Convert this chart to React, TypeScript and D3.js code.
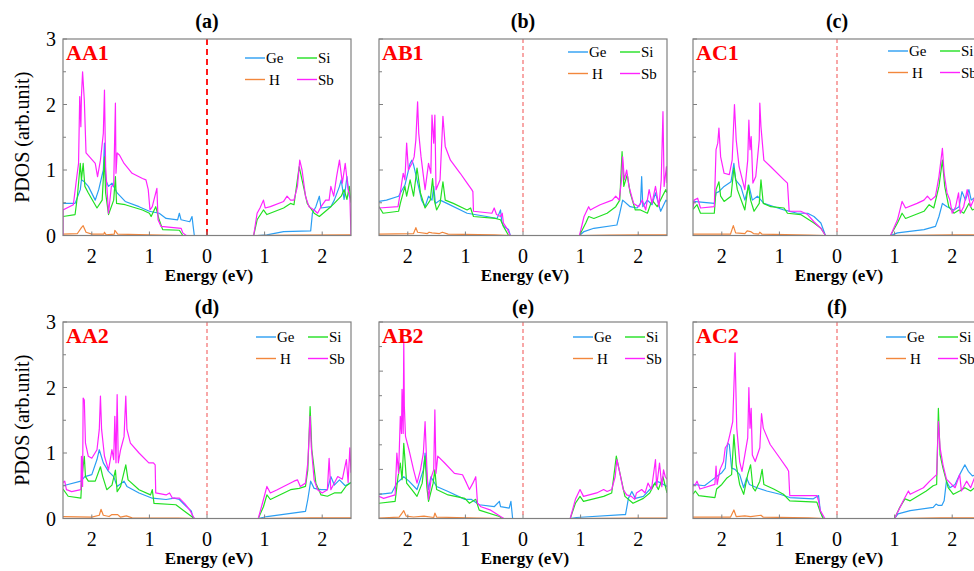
import React from 'react';
import * as d3 from 'd3';

type Pt = [number, number];

// categories and labels
const panelTags = ['(a)', '(b)', '(c)', '(d)', '(e)', '(f)'];
const structures = ['AA1', 'AB1', 'AC1', 'AA2', 'AB2', 'AC2'];
const elements = ['Ge', 'Si', 'H', 'Sb'];
const xTicks = [-2, -1, 0, 1, 2];
const yMaxes = [3, 3, 3, 3, 4, 3];

// PDOS: [energy (eV), PDOS]
const aa1Ge: Pt[] = [[-2.5,0.49],[-2.29,0.49],[-2.2,0.7],[-2.18,0.85],[-2.13,0.82],[-2.06,0.75],[-1.94,0.54],[-1.88,0.7],[-1.8,1.0],[-1.78,1.41],[-1.76,0.85],[-1.71,0.75],[-1.65,0.8],[-1.56,0.65],[-1.42,0.52],[-1.18,0.44],[-1.0,0.37],[-0.83,0.34],[-0.71,0.26],[-0.51,0.24],[-0.48,0.34],[-0.45,0.24],[-0.3,0.21],[-0.26,0.29],[-0.24,0.14],[-0.22,0],
  [0.87,0],[1.04,0.01],[1.33,0.06],[1.8,0.07],[1.83,0.34],[1.89,0.44],[1.95,0.6],[1.98,0.42],[2.15,0.44],[2.21,0.54],[2.3,0.75],[2.33,0.85],[2.38,0.55],[2.43,0.9],[2.47,0.6],[2.5,0.55]];
const aa1Si: Pt[] = [[-2.5,0.29],[-2.29,0.32],[-2.25,0.6],[-2.2,1.1],[-2.18,0.85],[-2.15,1.1],[-2.12,0.75],[-2.06,0.65],[-1.91,0.42],[-1.82,0.54],[-1.78,1.2],[-1.76,0.65],[-1.71,0.32],[-1.62,0.54],[-1.59,0.9],[-1.57,0.49],[-1.42,0.47],[-1.12,0.39],[-1.0,0.34],[-0.97,0.29],[-0.89,0.44],[-0.83,0.24],[-0.77,0.09],[-0.48,0.08],[-0.42,0],
  [0.81,0],[0.87,0.24],[0.98,0.39],[1.04,0.32],[1.33,0.42],[1.45,0.49],[1.51,0.47],[1.6,1.05],[1.65,0.85],[1.74,0.49],[1.86,0.34],[1.95,0.29],[2.15,0.44],[2.21,0.49],[2.33,0.6],[2.38,0.7],[2.43,0.55],[2.47,0.75],[2.5,0.5]];
const aa1H: Pt[] = [[-2.5,0.02],[-2.25,0.03],[-2.18,0.12],[-2.15,0.15],[-2.1,0.05],[-2.0,0.02],[-1.79,0.02],[-1.78,0.05],[-1.75,0.01],[-1.61,0.02],[-1.6,0.08],[-1.55,0.02],[-1.0,0.01],[-0.4,0],[0.8,0],[1.5,0.005],[2.5,0.01]];
const aa1Sb: Pt[] = [[-2.5,0],[-2.5,0.39],[-2.32,0.47],[-2.26,0.9],[-2.23,1.1],[-2.21,2.12],[-2.19,1.66],[-2.18,2.12],[-2.16,2.5],[-2.13,2.07],[-2.1,1.26],[-1.94,1.1],[-1.9,0.9],[-1.85,1.15],[-1.8,1.56],[-1.78,2.22],[-1.76,1.05],[-1.71,0.34],[-1.66,0.75],[-1.62,0.77],[-1.59,2.02],[-1.58,0.95],[-1.56,1.26],[-1.52,1.23],[-1.44,1.1],[-1.3,0.95],[-1.12,0.87],[-1.06,0.85],[-1.02,0.7],[-0.99,0.39],[-0.95,0.44],[-0.89,0.65],[-0.87,0.72],[-0.85,0.24],[-0.8,0.14],[-0.45,0.11],[-0.42,0.04],[-0.36,0],
  [0.81,0],[0.87,0.34],[0.92,0.42],[0.98,0.54],[1.01,0.42],[1.1,0.44],[1.33,0.52],[1.39,0.6],[1.45,0.54],[1.51,0.54],[1.57,0.75],[1.61,1.15],[1.65,1.0],[1.71,0.6],[1.77,0.44],[1.86,0.39],[1.92,0.34],[1.98,0.44],[2.06,0.54],[2.12,0.54],[2.15,0.75],[2.2,0.6],[2.25,0.9],[2.3,1.15],[2.35,0.8],[2.4,1.1],[2.45,0.7],[2.48,0.6],[2.5,0]];

const ab1Ge: Pt[] = [[-2.5,0.52],[-2.37,0.54],[-2.16,0.6],[-2.05,0.77],[-1.96,1.1],[-1.93,1.15],[-1.9,1.08],[-1.84,0.85],[-1.76,0.54],[-1.7,0.44],[-1.64,0.6],[-1.58,0.54],[-1.55,0.75],[-1.52,0.49],[-1.44,0.54],[-1.32,0.49],[-0.97,0.34],[-0.63,0.29],[-0.45,0.26],[-0.39,0.39],[-0.37,0.22],[-0.34,0.14],[-0.25,0.09],[-0.22,0],
  [0.98,0],[1.06,0.06],[1.23,0.11],[1.63,0.16],[1.68,0.34],[1.73,0.54],[1.86,0.44],[1.98,0.42],[2.04,0.49],[2.06,0.9],[2.08,0.44],[2.16,0.54],[2.24,0.47],[2.3,0.65],[2.39,0.37],[2.48,0.54],[2.5,0.52]];
const ab1Si: Pt[] = [[-2.5,0.44],[-2.43,0.34],[-2.16,0.37],[-2.13,0.49],[-2.05,0.75],[-2.02,0.6],[-1.96,0.85],[-1.9,0.6],[-1.84,1.03],[-1.78,0.65],[-1.7,0.42],[-1.61,0.54],[-1.57,0.87],[-1.54,0.54],[-1.5,0.39],[-1.44,0.49],[-1.39,0.82],[-1.35,0.54],[-1.21,0.49],[-0.97,0.39],[-0.91,0.42],[-0.86,0.29],[-0.48,0.26],[-0.39,0.24],[-0.34,0.14],[-0.25,0],
  [0.98,0],[1.09,0.19],[1.14,0.29],[1.23,0.26],[1.46,0.34],[1.61,0.44],[1.68,0.54],[1.72,1.28],[1.75,0.75],[1.81,0.93],[1.86,0.65],[1.95,0.39],[2.04,0.39],[2.16,0.34],[2.24,0.54],[2.33,0.44],[2.42,0.6],[2.48,0.7],[2.5,0.65]];
const ab1H: Pt[] = [[-2.5,0.02],[-1.9,0.03],[-1.86,0.12],[-1.83,0.05],[-1.66,0.03],[-1.63,0.05],[-1.58,0.04],[-1.45,0.03],[-1.4,0.05],[-1.3,0.02],[-0.5,0.01],[-0.22,0],[0.98,0],[1.5,0.005],[2.0,0.01],[2.5,0.01]];
const ab1Sb: Pt[] = [[-2.5,0.42],[-2.17,0.44],[-2.14,0.6],[-2.08,0.95],[-2.05,0.85],[-2.02,1.41],[-1.99,1.0],[-1.93,1.1],[-1.89,1.2],[-1.86,1.46],[-1.83,2.04],[-1.81,1.56],[-1.77,1.2],[-1.7,0.7],[-1.64,1.1],[-1.6,0.95],[-1.58,1.84],[-1.55,1.41],[-1.53,1.84],[-1.51,0.7],[-1.44,0.85],[-1.39,1.82],[-1.35,1.36],[-1.26,1.15],[-1.09,0.95],[-0.97,0.8],[-0.89,0.7],[-0.87,0.67],[-0.86,0.37],[-0.54,0.34],[-0.5,0.42],[-0.46,0.32],[-0.39,0.29],[-0.36,0.34],[-0.34,0.19],[-0.28,0.11],[-0.22,0],
  [0.98,0],[1.06,0.29],[1.14,0.44],[1.17,0.39],[1.23,0.42],[1.34,0.47],[1.55,0.54],[1.61,0.6],[1.67,0.54],[1.71,0.85],[1.73,1.2],[1.76,0.85],[1.8,1.0],[1.84,0.75],[1.92,0.49],[2.01,0.44],[2.07,0.54],[2.13,0.39],[2.19,0.7],[2.24,0.49],[2.3,0.75],[2.36,0.44],[2.4,0.85],[2.43,1.89],[2.45,0.75],[2.49,1.05],[2.5,0.8]];

const ac1Ge: Pt[] = [[-2.5,0.52],[-2.13,0.49],[-2.1,0.65],[-2.05,0.67],[-1.96,0.75],[-1.84,0.82],[-1.79,1.1],[-1.76,0.85],[-1.67,0.75],[-1.6,0.54],[-1.53,0.77],[-1.47,0.54],[-1.38,0.6],[-1.27,0.49],[-0.92,0.39],[-0.69,0.34],[-0.51,0.34],[-0.4,0.29],[-0.28,0.19],[-0.2,0],
  [0.93,0],[1.05,0.04],[1.51,0.09],[1.71,0.14],[1.77,0.29],[1.83,0.49],[1.91,0.44],[2.03,0.39],[2.12,0.44],[2.17,0.67],[2.23,0.54],[2.29,0.7],[2.33,0.54],[2.42,0.6],[2.5,0.5]];
const ac1Si: Pt[] = [[-2.5,0.4],[-2.43,0.47],[-2.37,0.34],[-2.13,0.34],[-2.1,0.7],[-2.05,0.82],[-2.02,0.6],[-1.96,0.52],[-1.84,0.6],[-1.79,1.03],[-1.73,0.7],[-1.6,0.39],[-1.54,0.77],[-1.5,0.54],[-1.44,0.37],[-1.35,0.49],[-1.32,0.85],[-1.28,0.49],[-1.15,0.44],[-0.92,0.42],[-0.86,0.34],[-0.63,0.32],[-0.4,0.19],[-0.28,0.11],[-0.2,0],
  [0.93,0],[1.05,0.19],[1.13,0.34],[1.19,0.26],[1.51,0.37],[1.6,0.47],[1.68,0.42],[1.77,0.75],[1.83,1.15],[1.87,0.75],[1.94,0.44],[2.03,0.34],[2.12,0.39],[2.2,0.34],[2.29,0.49],[2.35,0.39],[2.5,0.45]];
const ac1H: Pt[] = [[-2.5,0.02],[-1.85,0.02],[-1.8,0.15],[-1.76,0.04],[-1.6,0.03],[-1.56,0.07],[-1.5,0.06],[-1.45,0.03],[-1.36,0.02],[-1.34,0.05],[-1.3,0.02],[-0.5,0.005],[-0.2,0],[0.93,0],[2.0,0.01],[2.5,0.01]];
const ac1Sb: Pt[] = [[-2.5,0.42],[-2.48,0.54],[-2.42,0.57],[-2.37,0.42],[-2.13,0.44],[-2.1,1.31],[-2.07,1.41],[-2.05,1.64],[-2.02,1.2],[-1.96,0.95],[-1.87,0.93],[-1.82,1.15],[-1.78,2.0],[-1.75,1.46],[-1.7,1.05],[-1.6,0.7],[-1.55,1.15],[-1.53,1.76],[-1.51,1.31],[-1.49,1.51],[-1.46,0.8],[-1.41,0.9],[-1.35,1.46],[-1.34,2.02],[-1.32,1.66],[-1.27,1.15],[-1.15,1.05],[-0.92,0.85],[-0.86,0.8],[-0.83,0.37],[-0.63,0.37],[-0.51,0.32],[-0.4,0.21],[-0.28,0.11],[-0.2,0],
  [0.93,0],[1.05,0.24],[1.13,0.52],[1.19,0.42],[1.39,0.49],[1.51,0.54],[1.57,0.6],[1.63,0.54],[1.71,0.6],[1.77,0.9],[1.83,1.33],[1.86,0.95],[1.91,0.65],[1.96,0.54],[2.0,0.34],[2.06,0.44],[2.11,0.65],[2.14,0.34],[2.2,0.44],[2.26,0.7],[2.32,0.44],[2.4,0.6],[2.5,0.5]];

const aa2Ge: Pt[] = [[-2.5,0.5],[-2.19,0.57],[-2.12,0.64],[-2.0,0.67],[-1.91,0.9],[-1.87,1.05],[-1.8,0.85],[-1.71,0.72],[-1.62,0.64],[-1.56,0.49],[-1.44,0.57],[-1.39,0.49],[-1.18,0.39],[-0.95,0.31],[-0.71,0.29],[-0.57,0.31],[-0.48,0.29],[-0.39,0.21],[-0.27,0.11],[-0.25,0.03],[-0.22,0],
  [0.89,0],[1.04,0.03],[1.71,0.11],[1.75,0.29],[1.8,0.57],[1.86,0.46],[1.98,0.44],[2.09,0.44],[2.15,0.64],[2.21,0.51],[2.3,0.59],[2.4,0.5],[2.5,0.55]];
const aa2Si: Pt[] = [[-2.5,0.45],[-2.41,0.34],[-2.19,0.31],[-2.17,0.64],[-2.13,0.95],[-2.11,0.64],[-2.06,0.57],[-1.94,0.57],[-1.85,0.79],[-1.81,0.64],[-1.74,0.44],[-1.65,0.51],[-1.59,0.74],[-1.56,0.41],[-1.5,0.49],[-1.41,0.82],[-1.37,0.59],[-1.18,0.44],[-0.98,0.36],[-0.95,0.44],[-0.92,0.23],[-0.54,0.21],[-0.42,0.13],[-0.22,0],
  [0.89,0],[0.98,0.18],[1.04,0.36],[1.1,0.29],[1.45,0.44],[1.6,0.46],[1.71,0.49],[1.75,0.74],[1.79,1.71],[1.82,1.05],[1.89,0.54],[1.98,0.36],[2.09,0.34],[2.21,0.39],[2.33,0.39],[2.42,0.5],[2.5,0.55]];
const aa2H: Pt[] = [[-2.5,0.03],[-2.0,0.02],[-1.87,0.05],[-1.84,0.14],[-1.8,0.05],[-1.7,0.03],[-1.65,0.06],[-1.55,0.06],[-1.5,0.02],[-1.4,0.04],[-1.3,0.01],[-0.5,0.005],[-0.22,0],[0.89,0],[1.8,0.01],[2.5,0.01]];
const aa2Sb: Pt[] = [[-2.5,0.55],[-2.47,0.57],[-2.44,0.44],[-2.35,0.41],[-2.19,0.44],[-2.18,0.95],[-2.16,0.49],[-2.15,1.84],[-2.13,1.81],[-2.11,1.15],[-2.06,0.95],[-2.0,0.92],[-1.91,1.05],[-1.87,1.36],[-1.85,1.87],[-1.83,1.36],[-1.78,0.95],[-1.71,0.74],[-1.65,1.05],[-1.62,0.9],[-1.6,1.56],[-1.58,0.85],[-1.56,1.89],[-1.54,0.85],[-1.5,1.05],[-1.44,1.25],[-1.41,1.87],[-1.39,1.36],[-1.33,1.15],[-1.18,1.0],[-1.01,0.85],[-0.93,0.85],[-0.9,0.82],[-0.89,0.39],[-0.71,0.36],[-0.65,0.39],[-0.6,0.31],[-0.48,0.31],[-0.39,0.23],[-0.3,0.13],[-0.22,0],
  [0.89,0],[0.98,0.29],[1.04,0.49],[1.1,0.39],[1.22,0.44],[1.51,0.57],[1.57,0.59],[1.62,0.49],[1.71,0.54],[1.75,0.85],[1.79,1.56],[1.81,1.1],[1.86,0.59],[1.92,0.44],[2.0,0.39],[2.09,0.44],[2.12,0.92],[2.15,0.44],[2.27,0.64],[2.35,0.6],[2.42,0.9],[2.45,0.55],[2.48,1.08],[2.5,0.7]];

const ab2Ge: Pt[] = [[-2.5,0.49],[-2.28,0.52],[-2.19,0.72],[-2.07,0.85],[-1.98,0.76],[-1.84,0.59],[-1.73,0.99],[-1.7,1.33],[-1.67,0.85],[-1.64,0.59],[-1.6,0.85],[-1.5,0.65],[-1.3,0.55],[-1.01,0.39],[-0.9,0.39],[-0.76,0.28],[-0.5,0.24],[-0.41,0.35],[-0.39,0.24],[-0.24,0.21],[-0.21,0.35],[-0.18,0],
  [0.82,0],[0.93,0.02],[1.74,0.08],[1.78,0.08],[1.83,0.41],[1.89,0.55],[1.95,0.41],[2.09,0.45],[2.2,0.59],[2.32,0.76],[2.4,0.72],[2.5,0.65]];
const ab2Si: Pt[] = [[-2.5,0.31],[-2.22,0.35],[-2.17,0.85],[-2.13,1.13],[-2.1,0.79],[-2.07,1.53],[-2.02,0.72],[-1.93,0.59],[-1.84,0.45],[-1.75,0.72],[-1.7,1.27],[-1.67,0.65],[-1.64,0.35],[-1.56,0.72],[-1.53,0.99],[-1.5,0.59],[-1.3,0.48],[-1.01,0.41],[-0.93,0.31],[-0.82,0.39],[-0.76,0.17],[-0.41,0.04],[-0.36,0],
  [0.82,0],[0.91,0.31],[0.99,0.45],[1.05,0.35],[1.4,0.45],[1.54,0.52],[1.62,1.27],[1.67,0.99],[1.77,0.45],[1.91,0.31],[2.09,0.41],[2.2,0.52],[2.29,0.72],[2.35,0.59],[2.43,0.85],[2.5,0.52]];
const ab2H: Pt[] = [[-2.5,0.01],[-2.15,0.03],[-2.1,0.11],[-2.07,0.16],[-2.03,0.05],[-1.9,0.03],[-1.72,0.05],[-1.55,0.02],[-1.53,0.11],[-1.5,0.03],[-0.8,0.01],[-0.3,0],[0.82,0],[2.0,0.01],[2.5,0.01]];
const ab2Sb: Pt[] = [[-2.5,0.45],[-2.42,0.41],[-2.22,0.48],[-2.19,1.33],[-2.16,0.92],[-2.13,2.08],[-2.11,1.73],[-2.1,2.63],[-2.08,1.73],[-2.07,3.64],[-2.06,2.28],[-2.04,1.67],[-1.98,1.4],[-1.9,0.99],[-1.84,0.72],[-1.78,0.99],[-1.73,1.33],[-1.7,1.97],[-1.67,1.07],[-1.64,0.39],[-1.59,0.85],[-1.55,0.99],[-1.53,2.21],[-1.51,0.92],[-1.48,1.27],[-1.36,1.13],[-1.19,0.92],[-1.05,0.89],[-0.98,0.72],[-0.93,0.59],[-0.87,0.72],[-0.82,0.85],[-0.79,0.31],[-0.73,0.24],[-0.56,0.17],[-0.39,0.04],[-0.33,0],
  [0.82,0],[0.91,0.39],[0.99,0.59],[1.05,0.45],[1.28,0.52],[1.4,0.59],[1.46,0.55],[1.54,0.59],[1.6,0.85],[1.63,1.2],[1.67,0.99],[1.74,0.59],[1.8,0.48],[1.88,0.45],[1.94,0.39],[1.97,0.52],[2.06,0.59],[2.12,0.52],[2.17,0.72],[2.23,0.59],[2.3,1.2],[2.32,0.65],[2.37,1.13],[2.41,0.65],[2.44,0.99],[2.47,0.85],[2.5,0.8]];

const ac2Ge: Pt[] = [[-2.5,0.52],[-2.3,0.5],[-2.12,0.62],[-2.0,0.7],[-1.94,0.77],[-1.9,1.15],[-1.87,1.13],[-1.83,0.77],[-1.77,0.75],[-1.69,0.67],[-1.62,0.47],[-1.57,0.62],[-1.52,0.52],[-1.39,0.47],[-1.22,0.42],[-0.99,0.37],[-0.82,0.32],[-0.41,0.3],[-0.32,0.35],[-0.29,0.12],[-0.24,0],
  [1.0,0],[1.06,0.07],[1.27,0.12],[1.67,0.17],[1.72,0.22],[1.76,0.2],[1.82,0.2],[1.86,0.27],[1.9,0.57],[1.96,0.47],[2.05,0.52],[2.13,0.67],[2.22,0.82],[2.28,0.72],[2.35,0.65],[2.5,0.7]];
const ac2Si: Pt[] = [[-2.5,0.37],[-2.46,0.42],[-2.4,0.35],[-2.12,0.32],[-2.09,0.45],[-2.0,0.52],[-1.91,0.62],[-1.83,0.67],[-1.79,1.28],[-1.75,0.82],[-1.69,0.52],[-1.62,0.37],[-1.55,0.67],[-1.5,0.82],[-1.46,0.47],[-1.42,0.42],[-1.34,0.57],[-1.3,0.75],[-1.27,0.52],[-1.1,0.45],[-0.93,0.37],[-0.82,0.27],[-0.35,0.25],[-0.29,0.1],[-0.24,0],
  [1.0,0],[1.09,0.17],[1.18,0.3],[1.27,0.27],[1.55,0.42],[1.67,0.5],[1.73,0.52],[1.76,1.68],[1.79,0.97],[1.84,0.77],[1.93,0.47],[2.02,0.37],[2.13,0.42],[2.22,0.47],[2.32,0.42],[2.5,0.55]];
const ac2H: Pt[] = [[-2.5,0.02],[-1.85,0.02],[-1.79,0.13],[-1.75,0.03],[-1.6,0.04],[-1.5,0.03],[-1.32,0.05],[-1.28,0.02],[-0.5,0.01],[-0.22,0],[1.0,0],[1.8,0.01],[2.5,0.01]];
const ac2Sb: Pt[] = [[-2.5,0.5],[-2.46,0.52],[-2.43,0.57],[-2.38,0.45],[-2.12,0.52],[-2.1,0.8],[-2.08,0.52],[-2.03,0.75],[-1.97,0.87],[-1.94,1.08],[-1.9,1.13],[-1.86,1.28],[-1.81,1.48],[-1.77,2.53],[-1.74,1.38],[-1.69,0.87],[-1.65,0.72],[-1.6,0.97],[-1.55,1.23],[-1.53,2.0],[-1.51,1.38],[-1.49,1.68],[-1.47,0.97],[-1.42,0.87],[-1.34,1.08],[-1.31,1.6],[-1.28,1.38],[-1.16,1.13],[-0.99,0.92],[-0.87,0.77],[-0.84,0.72],[-0.82,0.35],[-0.58,0.35],[-0.35,0.35],[-0.32,0.27],[-0.29,0.12],[-0.21,0],
  [1.0,0],[1.15,0.27],[1.24,0.42],[1.27,0.37],[1.5,0.47],[1.61,0.57],[1.67,0.62],[1.73,0.67],[1.76,1.48],[1.79,1.08],[1.84,0.82],[1.9,0.6],[1.99,0.52],[2.05,0.47],[2.13,0.67],[2.16,0.42],[2.25,0.57],[2.32,0.47],[2.4,0.65],[2.5,0.7]];

const series: Pt[][][] = [
  [aa1Ge, aa1Si, aa1H, aa1Sb],
  [ab1Ge, ab1Si, ab1H, ab1Sb],
  [ac1Ge, ac1Si, ac1H, ac1Sb],
  [aa2Ge, aa2Si, aa2H, aa2Sb],
  [ab2Ge, ab2Si, ab2H, ab2Sb],
  [ac2Ge, ac2Si, ac2H, ac2Sb],
];

const colors: Record<string, string> = { Ge: '#2b9ef3', Si: '#22e022', H: '#f2873c', Sb: '#ff22ff' };

// layout
const W = 974, Hh = 571;
const colLeft = [63, 379, 693];
const rowTop = [39, 322];
const pw = 288, ph = 196.5;
const legendDx = [-106, -99, -93, -95, -94, -95];
const legendDy = [19, 13, 12, 15, 15, 15];
const serif = '"Liberation Serif", "Times New Roman", serif';

function Panel({ idx }: { idx: number }) {
  const col = idx % 3, row = Math.floor(idx / 3);
  const left = colLeft[col], top = rowTop[row];
  const yMax = yMaxes[idx];
  const x = d3.scaleLinear().domain([-2.5, 2.5]).range([left, left + pw]);
  const y = d3.scaleLinear().domain([0, yMax]).range([top + ph, top]);
  const line = d3.line<Pt>().x(d => x(d[0])).y(d => y(d[1]));
  const yTicks = d3.range(0, yMax + 0.001, 0.5);
  const clipId = `clip-${idx}`;
  const lx = left + pw + legendDx[idx];
  const ly = top + legendDy[idx];
  const thick = idx === 0;

  return (
    <g>
      <defs>
        <clipPath id={clipId}>
          <rect x={left} y={top} width={pw} height={ph} />
        </clipPath>
      </defs>
      <text x={x(0)} y={top - (row === 0 ? 11 : 8)} textAnchor="middle" fontFamily={serif}
        fontWeight="bold" fontSize={20}>{panelTags[idx]}</text>
      <g clipPath={`url(#${clipId})`}>
        {series[idx].map((s, i) => (
          <path key={elements[i]} d={line(s) || ''} fill="none" stroke={colors[elements[i]]}
            strokeWidth={1.2} strokeLinejoin="round" />
        ))}
      </g>
      <line x1={x(0)} x2={x(0)} y1={top} y2={top + ph}
        stroke={thick ? '#ff1a1a' : '#f26060'} strokeWidth={thick ? 2 : 1.1}
        strokeDasharray={thick ? '6,4' : '4,3'} />
      <rect x={left} y={top} width={pw} height={ph} fill="none" stroke="#808080" strokeWidth={1.2} />
      {yTicks.map(t => (
        <line key={'y' + t} x1={left} x2={left + (t % 1 === 0 ? 4 : 3)} y1={y(t)} y2={y(t)}
          stroke="#808080" strokeWidth={1} />
      ))}
      {col === 0 && yTicks.filter(t => t % 1 === 0).map(t => (
        <text key={'yl' + t} x={left - 7} y={y(t)} dy="0.35em" textAnchor="end"
          fontFamily={serif} fontSize={20}>{t}</text>
      ))}
      {xTicks.map(t => (
        <g key={'x' + t}>
          <line x1={x(t)} x2={x(t)} y1={top + ph} y2={top + ph - 4} stroke="#808080" strokeWidth={1} />
          <text x={x(t)} y={top + ph + 27} textAnchor="middle" fontFamily={serif} fontSize={20}>
            {Math.abs(t)}
          </text>
        </g>
      ))}
      <text x={x(0) + 2} y={top + ph + 45} textAnchor="middle" fontFamily={serif}
        fontWeight="bold" fontSize={17}>Energy (eV)</text>
      <text x={left + 3} y={top + 21} fontFamily={serif} fontWeight="bold" fontSize={22}
        fill="#ff0000">{structures[idx]}</text>
      {elements.map((e, i) => {
        const gx = lx + (i % 2) * 52;
        const gy = ly + Math.floor(i / 2) * 21.5;
        return (
          <g key={'lg' + e}>
            <line x1={gx} x2={gx + 20} y1={gy} y2={gy} stroke={colors[e]} strokeWidth={1.4} />
            <text x={gx + (e === 'H' ? 4 : 1)} dx={20} y={gy + 5} fontFamily={serif} fontSize={15}>{e}</text>
          </g>
        );
      })}
    </g>
  );
}

export default function App() {
  return (
    <div style={{ position: 'absolute', left: 0, top: 0 }}>
      <svg width={W} height={Hh} viewBox={`0 0 ${W} ${Hh}`} style={{ display: 'block', background: '#fff' }}>
        {rowTop.map((t, r) => (
          <text key={'ylab' + r} transform={`translate(29,${t + ph / 2}) rotate(-90)`}
            textAnchor="middle" fontFamily={serif} fontSize={20}>PDOS (arb.unit)</text>
        ))}
        {panelTags.map((_, i) => <Panel key={i} idx={i} />)}
      </svg>
    </div>
  );
}
